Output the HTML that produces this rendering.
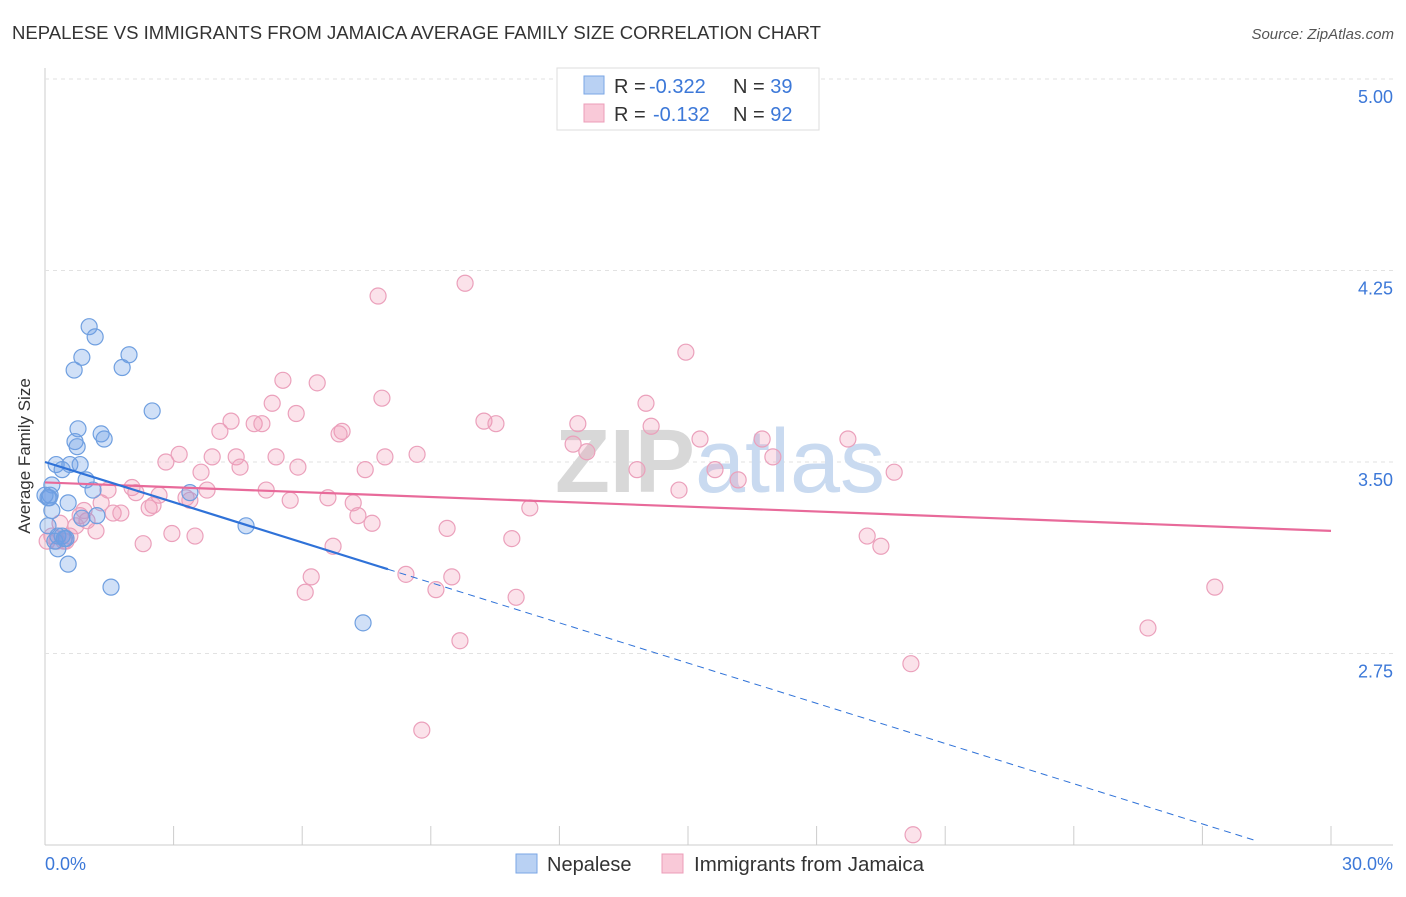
<!DOCTYPE html>
<html><head><meta charset="utf-8"><style>
body{margin:0;background:#fff;font-family:"Liberation Sans",sans-serif;}
svg text{font-family:"Liberation Sans",sans-serif;}
</style></head><body>
<svg id="chart" width="1406" height="892">
<text x="12" y="39" font-size="18" fill="#333" textLength="809" lengthAdjust="spacingAndGlyphs">NEPALESE VS IMMIGRANTS FROM JAMAICA AVERAGE FAMILY SIZE CORRELATION CHART</text>
<text x="1394" y="39" font-size="15" fill="#555" text-anchor="end" font-style="italic">Source: ZipAtlas.com</text>
<g id="grid"></g>
<text x="720" y="492" font-size="90" fill="#ddd" text-anchor="middle" font-family="Liberation Serif"><tspan font-weight="bold" fill="#d8d8d8">ZIP</tspan><tspan fill="#c9daf0">atlas</tspan></text>
<g id="marks"></g>
<text x="30" y="456" font-size="17" fill="#333" text-anchor="middle" transform="rotate(-90 30 456)">Average Family Size</text>
<text x="45" y="870" font-size="18" fill="#3c78d8">0.0%</text>
<text x="1393" y="870" font-size="18" fill="#3c78d8" text-anchor="end">30.0%</text>
<g>
<rect x="557" y="68" width="262" height="62" fill="#fff" stroke="#ddd"/>
<rect x="584" y="76" width="20" height="18" fill="#b9d1f3" stroke="#7aa6e6"/>
<rect x="584" y="104" width="20" height="18" fill="#f9c9d8" stroke="#ec9db8"/>
<text x="614" y="93" font-size="20" fill="#333">R = <tspan x="649" fill="#3c78d8">-0.322</tspan><tspan x="733">N = </tspan><tspan fill="#3c78d8">39</tspan></text>
<text x="614" y="121" font-size="20" fill="#333">R = <tspan x="653" fill="#3c78d8">-0.132</tspan><tspan x="733">N = </tspan><tspan fill="#3c78d8">92</tspan></text>
</g>
<g>
<rect x="516" y="854" width="21" height="19" fill="#b9d1f3" stroke="#7aa6e6"/>
<text x="547" y="871" font-size="20" fill="#333">Nepalese</text>
<rect x="662" y="854" width="21" height="19" fill="#f9c9d8" stroke="#ec9db8"/>
<text x="694" y="871" font-size="20" fill="#333" textLength="230" lengthAdjust="spacingAndGlyphs">Immigrants from Jamaica</text>
</g>
</svg>
<script>
const yTicks=[2.75,3.5,4.25,5.0];
const yTickLabels=["2.75","3.50","4.25","5.00"];
const xTicks=[0,3,6,9,12,15,18,21,24,27,30];
const nepX=[1.03,1.17,0.86,0.68,1.96,1.80,2.50,0.77,0.70,0.75,1.31,1.38,0.26,0.58,0.82,0.40,0.16,0.96,1.12,0.12,0.07,0.54,0.16,1.21,0.86,0.07,0.30,0.49,0.30,0.54,1.54,3.38,4.69,7.42,0.0,0.40,0.23,0.45,0.10];
const nepY=[4.03,3.99,3.91,3.86,3.92,3.87,3.70,3.63,3.58,3.56,3.61,3.59,3.49,3.49,3.49,3.47,3.41,3.43,3.39,3.37,3.36,3.34,3.31,3.29,3.28,3.25,3.21,3.20,3.16,3.10,3.01,3.38,3.25,2.87,3.37,3.21,3.19,3.20,3.36];
const jamX=[9.80,7.77,14.95,5.55,6.35,7.86,14.02,5.30,4.34,5.86,4.88,5.06,10.24,10.52,12.43,14.14,4.08,6.93,6.86,12.32,15.28,16.73,18.73,12.64,3.13,3.90,4.46,5.39,7.93,8.68,2.82,3.64,4.55,5.90,7.47,13.81,15.63,16.98,19.81,16.17,2.03,1.47,2.12,2.66,3.78,5.16,3.29,5.72,6.60,7.19,14.79,1.31,2.43,2.52,1.59,1.77,11.31,0.98,0.82,7.30,7.63,9.38,0.35,1.19,2.96,3.50,2.29,0.16,0.44,10.89,19.18,19.50,6.72,6.21,8.42,9.49,6.07,9.12,10.99,27.29,9.68,25.73,20.20,8.79,20.25,0.05,0.28,0.58,0.72,0.49,0.91,3.38];
const jamY=[4.20,4.15,3.93,3.82,3.81,3.75,3.73,3.73,3.66,3.69,3.65,3.65,3.66,3.65,3.65,3.64,3.62,3.62,3.61,3.57,3.59,3.59,3.59,3.54,3.53,3.52,3.52,3.52,3.52,3.53,3.50,3.46,3.48,3.48,3.47,3.47,3.47,3.52,3.46,3.43,3.40,3.39,3.38,3.37,3.39,3.39,3.36,3.35,3.36,3.34,3.39,3.34,3.32,3.33,3.30,3.30,3.32,3.27,3.29,3.29,3.26,3.24,3.26,3.23,3.22,3.21,3.18,3.21,3.19,3.20,3.21,3.17,3.17,3.05,3.06,3.05,2.99,3.00,2.97,3.01,2.80,2.85,2.71,2.45,2.04,3.19,3.19,3.21,3.25,3.19,3.31,3.35];
const nepTrend=[3.50,-0.0525];
const jamTrend=[3.42,-0.00633];
const NS="http://www.w3.org/2000/svg";
const X=v=>45+v*(1286/30);
const Y=v=>79+(5-v)*255.33;
function mk(t,a,p){const e=document.createElementNS(NS,t);for(const k in a)e.setAttribute(k,a[k]);(p||document.getElementById('marks')).appendChild(e);return e;}
const grid=document.getElementById('grid');
mk('line',{x1:45,y1:68,x2:45,y2:845,stroke:'#ccc'},grid);
mk('line',{x1:45,y1:845,x2:1393,y2:845,stroke:'#ccc'},grid);
yTicks.forEach((t,i)=>{
 const l=mk('line',{x1:45,y1:Y(t),x2:1393,y2:Y(t),stroke:'#e2e2e2','stroke-dasharray':'4,4'},grid);
 
 
 const tx=mk('text',{x:1393,y:Y(t)+24,'font-size':18,fill:'#3c78d8','text-anchor':'end'},grid);
 tx.textContent=yTickLabels[i];
 
 
});
xTicks.forEach(t=>{
 const l=mk('line',{x1:X(t),y1:826,x2:X(t),y2:845,stroke:'#ccc'},grid);
 
 
});
jamX.forEach((x,i)=>{
 const c=mk('circle',{cx:X(x),cy:Y(jamY[i]),r:8,fill:'rgba(242,150,180,0.28)',stroke:'#eba0bb','stroke-width':1.2});
 
 
});
nepX.forEach((x,i)=>{
 const c=mk('circle',{cx:X(x),cy:Y(nepY[i]),r:8,fill:'rgba(110,160,230,0.32)',stroke:'#6f9fe0','stroke-width':1.2});
 
 
});
const pl=mk('line',{x1:X(0),y1:Y(jamTrend[0]),x2:X(30),y2:Y(jamTrend[0]+30*jamTrend[1]),stroke:'#e86a9a','stroke-width':2.2});


const bl=mk('line',{x1:X(0),y1:Y(nepTrend[0]),x2:X(8),y2:Y(nepTrend[0]+8*nepTrend[1]),stroke:'#2f72d8','stroke-width':2.2});


const xe=(nepTrend[0]-2.02)/(-nepTrend[1]);
const bd=mk('line',{x1:X(8),y1:Y(nepTrend[0]+8*nepTrend[1]),x2:X(xe),y2:Y(nepTrend[0]+xe*nepTrend[1]),stroke:'#2f72d8','stroke-width':1,'stroke-dasharray':'7,5'});


</script>
</body></html>
